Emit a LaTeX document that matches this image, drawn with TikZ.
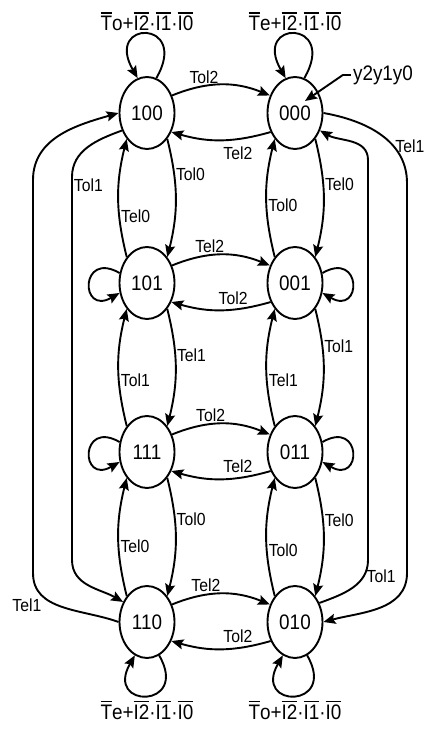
\documentclass[tikz,border=0pt]{standalone}
\usepackage{fontspec}
\setmainfont{Liberation Sans}[FakeStretch=0.9]
\usetikzlibrary{shapes.geometric,arrows.meta}
\newcommand\obar[1]{\vbox{\hrule height 1.5pt\kern 2.6pt\hbox{#1\vphantom{I}}}}
\begin{document}
\begin{tikzpicture}[x=1pt,y=1pt,
  st/.style={draw, ellipse, line width=1.9pt, minimum width=55pt, minimum height=72pt, inner sep=0pt, font=\fontsize{21}{21}\selectfont},
  arr/.style={line width=1.9pt, -{Stealth[length=12pt,width=10pt,inset=2pt]}},
  el/.style={font=\fontsize{17.5}{17.5}\selectfont, inner sep=1pt},
  ll/.style={font=\fontsize{21}{21}\selectfont, inner sep=2pt}]
\useasboundingbox (0,0) rectangle (425,729);
% states
\node[st] (n100) at (147,616) {100};
\node[st] (n000) at (295,616) {000};
\node[st] (n101) at (147,446) {101};
\node[st] (n001) at (295,446) {001};
\node[st] (n111) at (147,277) {111};
\node[st] (n011) at (295,277) {011};
\node[st] (n110) at (147,107) {110};
\node[st] (n010) at (295,107) {010};
% waypoints
\coordinate (lo1) at (33,156); \coordinate (lo2) at (33,549);
\coordinate (li1) at (72,552); \coordinate (li2) at (72,169);
\coordinate (ri1) at (368,169); \coordinate (ri2) at (368,569);
\coordinate (ro1) at (407,546); \coordinate (ro2) at (407,156);
\coordinate (ytip) at (305,628);
% label
\node[ll] (ylab) at (383,654) {y2y1y0};
\draw[arr] (ylab.west) -- ++(-8pt,0) -- (ytip);
% vertical edges, left column
\draw[arr] (n100.-52) to[bend left=14] node[el,pos=0.29,anchor=west]{Tol0} (n101.52);
\draw[arr] (n101.128) to[bend left=14] node[el,pos=0.34,anchor=west]{Tel0} (n100.232);
\draw[arr] (n101.-52) to[bend left=14] node[el,pos=0.39,anchor=west]{Tel1} (n111.52);
\draw[arr] (n111.128) to[bend left=14] node[el,pos=0.38,anchor=west]{Tol1} (n101.232);
\draw[arr] (n111.-52) to[bend left=14] node[el,pos=0.34,anchor=west]{Tol0} (n110.52);
\draw[arr] (n110.128) to[bend left=14] node[el,pos=0.42,anchor=west]{Tel0} (n111.232);
% vertical edges, right column
\draw[arr] (n000.-52) to[bend left=14] node[el,pos=0.38,anchor=west]{Tel0} (n001.52);
\draw[arr] (n001.128) to[bend left=14] node[el,pos=0.43,anchor=west]{Tol0} (n000.232);
\draw[arr] (n001.-52) to[bend left=14] node[el,pos=0.31,anchor=west]{Tol1} (n011.52);
\draw[arr] (n011.128) to[bend left=14] node[el,pos=0.38,anchor=west]{Tel1} (n001.232);
\draw[arr] (n011.-52) to[bend left=14] node[el,pos=0.35,anchor=west]{Tel0} (n010.52);
\draw[arr] (n010.128) to[bend left=14] node[el,pos=0.38,anchor=west]{Tol0} (n011.232);
% horizontal edges
\draw[arr] (n100.35) to[bend left=22] node[el,pos=0.32,above=1pt]{Tol2} (n000.145);
\draw[arr] (n000.218) to[bend left=16] node[el,pos=0.32,below=6pt]{Tel2} (n100.-38);
\draw[arr] (n101.35) to[bend left=22] node[el,pos=0.38,above=1pt]{Tel2} (n001.145);
\draw[arr] (n001.218) to[bend left=16] node[el,pos=0.37,above=3pt]{Tol2} (n101.-38);
\draw[arr] (n111.35) to[bend left=22] node[el,pos=0.39,above=1pt]{Tol2} (n011.145);
\draw[arr] (n011.218) to[bend left=16] node[el,pos=0.32,above=3pt]{Tel2} (n111.-38);
\draw[arr] (n110.35) to[bend left=22] node[el,pos=0.34,above=1pt]{Tel2} (n010.145);
\draw[arr] (n010.218) to[bend left=16] node[el,pos=0.32,above=3pt]{Tol2} (n110.-38);
% outer edges
\draw[arr] (n110.west) to[out=160,in=-90] node[el,pos=0.55,anchor=east,xshift=-14pt]{Tel1} (lo1) -- (lo2) to[out=90,in=196] (n100.west);
\draw[arr] (n100.215) to[out=200,in=90] (li1) -- node[el,pos=0,anchor=north west]{Tol1} (li2) to[out=-90,in=150] (n110.140);
\draw[arr] (n010.38) to[out=20,in=-90] node[el,pos=0.75,anchor=west,inner sep=2pt]{Tol1} (ri1) -- (ri2) to[out=90,in=-30] (n000.-35);
\draw[arr] (n000.east) to[out=-10,in=90] node[el,pos=0.65,anchor=west]{Tel1} (ro1) -- (ro2) to[out=-90,in=15] (n010.east);
% self loops
\draw[arr] (n100.75) .. controls +(60:68pt) and +(120:68pt) .. node[ll,midway,above]{\obar{T}o+\obar{I2}·\obar{I1}·\obar{I0}} (n100.105);
\draw[arr] (n000.75) .. controls +(60:68pt) and +(120:68pt) .. node[ll,midway,above]{\obar{T}e+\obar{I2}·\obar{I1}·\obar{I0}} (n000.105);
\draw[arr] (n101.160) .. controls +(150:46pt) and +(210:46pt) .. (n101.200);
\draw[arr] (n111.160) .. controls +(150:46pt) and +(210:46pt) .. (n111.200);
\draw[arr] (n001.20) .. controls +(30:46pt) and +(-30:46pt) .. (n001.-20);
\draw[arr] (n011.20) .. controls +(30:46pt) and +(-30:46pt) .. (n011.-20);
\draw[arr] (n110.-70) .. controls +(-60:62pt) and +(-120:62pt) .. node[ll,midway,below=2pt]{\obar{T}e+\obar{I2}·\obar{I1}·\obar{I0}} (n110.-110);
\draw[arr] (n010.-70) .. controls +(-60:62pt) and +(-120:62pt) .. node[ll,midway,below=2pt]{\obar{T}o+\obar{I2}·\obar{I1}·\obar{I0}} (n010.-110);
\end{tikzpicture}
\end{document}
